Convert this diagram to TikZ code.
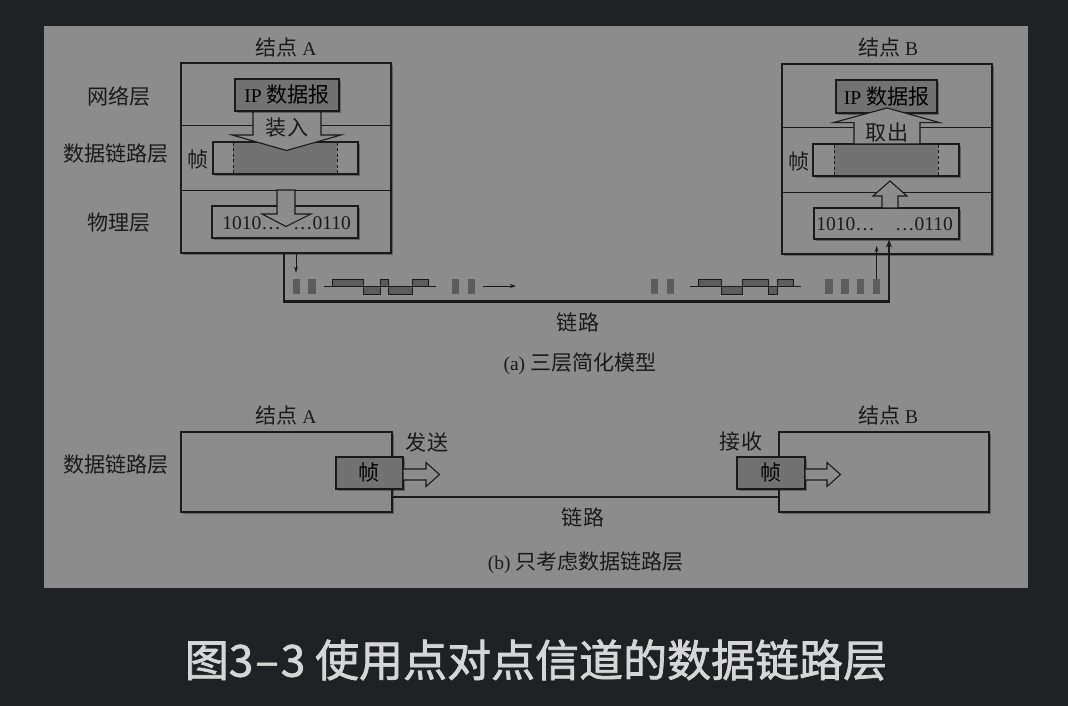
\documentclass[tikz,border=0pt]{standalone}
\usepackage{fontspec}
\setmainfont{Liberation Serif}
\newfontfamily\cjk[Scale=1.08]{Noto Sans CJK SC}
\newfontfamily\capfont[FakeBold=1.6]{Noto Sans CJK SC}
\newcommand\zhs[1]{{\cjk #1}}
\usetikzlibrary{shadows,arrows.meta}
\definecolor{bgc}{HTML}{202124}
\definecolor{panel}{HTML}{8C8C8C}
\definecolor{dfill}{HTML}{727272}
\definecolor{bitc}{HTML}{5C5C5C}
\definecolor{ink}{HTML}{1A1A1A}
\definecolor{capc}{HTML}{D6D6D6}
\begin{document}
\begin{tikzpicture}[x=1pt,y=-1pt,
  font=\fontsize{19.5}{22}\selectfont,
  box/.style={draw=ink, fill=panel, line width=1.1pt, inner sep=0pt,
    drop shadow={shadow xshift=1.6pt, shadow yshift=-1.6pt, fill=black, opacity=0.3}},
  darkbox/.style={box, fill=dfill},
  txt/.style={text=ink, inner sep=0pt},
  bitbox/.style={fill=bitc, draw=none, minimum width=7.5pt, minimum height=15pt, inner sep=0pt},
  link/.style={draw=ink, line width=2.8pt},
  thinarr/.style={draw=ink, line width=0.9pt, -{Stealth[length=6pt,width=4pt]}},
  hollow/.style={draw=ink, fill=panel, line width=1.1pt, line join=miter},
  divider/.style={draw=ink, line width=1pt},
  wave/.style={draw=ink, fill=bitc, line width=1pt},
  dashsep/.style={draw=ink, line width=0.9pt, dash pattern=on 3pt off 2.5pt}
]
\useasboundingbox (0,0) rectangle (1068,706);
\fill[bgc] (0,0) rectangle (1068,706);
\fill[panel] (44,26) rectangle (1028,588);

% ================= (a) =================
\node[txt] (tA) at (286,47) {\zhs{结点} A};
\node[txt] (tB) at (888,47) {\zhs{结点} B};
\node[txt] (l1) at (119,96) {\zhs{网络层}};
\node[txt] (l2) at (116,154) {\zhs{数据链路层}};
\node[txt] (l3) at (119,223) {\zhs{物理层}};

% ---- node A ----
\node[box, minimum width=210pt, minimum height=190pt] (nA) at (286,158) {};
\draw[divider] (nA.west |- 0,126) -- (nA.east |- 0,126);
\draw[divider] (nA.west |- 0,190) -- (nA.east |- 0,190);
\node[box, minimum width=145pt, minimum height=32pt] (fA) at (285.5,158) {};
\fill[dfill] (233,142.6) rectangle (337,173.4);
\draw[dashsep] (233,142.6) -- (233,173.4);
\draw[dashsep] (337,142.6) -- (337,173.4);
\node[txt] (zA) at (198,160) {\zhs{帧}};
\node[box, minimum width=146pt, minimum height=32pt] (bA) at (285,222) {};
\node[txt, anchor=east] (b1A) at (281,223) {1010…};
\node[txt, anchor=west] (b2A) at (293,223) {…0110};
% load arrow
\draw[hollow] (253,111) -- (321,111) -- (321,135) -- (341,135) -- (286.5,150.5) -- (232,135) -- (253,135) -- cycle;
\node[darkbox, minimum width=104pt, minimum height=32pt] (ipA) at (287,95) {IP \zhs{数据报}};
\node[txt] (ldA) at (287,128) {\zhs{装入}};
% physical arrow
\draw[hollow] (277,190) -- (295,190) -- (295,214) -- (311,214) -- (286,226.5) -- (262,214) -- (277,214) -- cycle;

% ---- node B ----
\node[box, minimum width=210pt, minimum height=190pt] (nB) at (887,159) {};
\draw[divider] (nB.west |- 0,128) -- (nB.east |- 0,128);
\draw[divider] (nB.west |- 0,192) -- (nB.east |- 0,192);
\node[darkbox, minimum width=101pt, minimum height=33pt] (ipB) at (886.5,96.5) {IP \zhs{数据报}};
\node[box, minimum width=146pt, minimum height=32pt] (fB) at (886,160) {};
\fill[dfill] (834,144.6) rectangle (938,175.4);
\draw[dashsep] (834,144.6) -- (834,175.4);
\draw[dashsep] (938,144.6) -- (938,175.4);
\node[txt] (zB) at (799,162) {\zhs{帧}};
\node[box, minimum width=145pt, minimum height=31pt] (bB) at (886.5,223.5) {};
\node[txt, anchor=east] (b1B) at (875,224) {1010…};
\node[txt, anchor=west] (b2B) at (895,224) {…0110};
% take-out arrow
\draw[hollow] (854,144) -- (854,122.7) -- (833,122.7) -- (887,108) -- (940,122.7) -- (920,122.7) -- (920,144) -- cycle;
\node[txt] (toB) at (887,133) {\zhs{取出}};
% physical up arrow
\draw[hollow] (882,208) -- (882,196) -- (873,196) -- (890,181) -- (907,196) -- (898,196) -- (898,208) -- cycle;

% ---- link (a) ----
\coordinate (ax) at (284,0);
\coordinate (bx) at (889,0);
\coordinate (lk) at (0,301.5);
\draw[link, line join=miter, -{Stealth[length=8pt,width=6pt]}] (nA.south -| ax) |- (lk -| bx) -- (bB.south -| bx);
\draw[thinarr] (nA.south -| 296,0) -- ++(0,19);

% bits
\node[bitbox] (a1) at (296.3,286.5) {};
\node[bitbox] (a2) at (312,286.5) {};
\node[bitbox] (a3) at (455.3,286.5) {};
\node[bitbox] (a4) at (471.3,286.5) {};
\node[bitbox] (c1) at (654.3,286.5) {};
\node[bitbox] (c2) at (670.3,286.5) {};
\node[bitbox] (c3) at (829,286.5) {};
\node[bitbox] (c4) at (845,286.5) {};
\node[bitbox] (c5) at (860.7,286.5) {};
\node[bitbox] (c6) at (876.7,286.5) {};
\draw[thinarr] (c6.north) -- (c6.north |- 0,246);
\coordinate (arS) at (483,286);
\coordinate (arE) at (516,286);
\draw[thinarr] (arS) -- (arE);

% waveforms
\draw[wave] (332,286) -- (332,279) -- (363,279) -- (363,294) -- (380,294) -- (380,279) -- (388,279) -- (388,294) -- (412,294) -- (412,279) -- (428,279) -- (428,286) -- cycle;
\draw[ink, line width=1pt] (324,286) -- (436,286);
\draw[wave] (698,286) -- (698,279) -- (721,279) -- (721,294) -- (742,294) -- (742,279) -- (768,279) -- (768,294) -- (777,294) -- (777,279) -- (793,279) -- (793,286) -- cycle;
\draw[ink, line width=1pt] (690,286) -- (801,286);

\node[txt] (lkA) at (578,322) {\zhs{链路}};
\node[txt] (capA) at (580,364) {(a) \zhs{三层简化模型}};

% ================= (b) =================
\node[txt] (tA2) at (286,415) {\zhs{结点} A};
\node[txt] (tB2) at (888,415) {\zhs{结点} B};
\node[txt] (l4) at (116,465) {\zhs{数据链路层}};
\node[box, minimum width=211pt, minimum height=80pt] (mA) at (286.5,472) {};
\node[box, minimum width=210pt, minimum height=80pt] (mB) at (884,472) {};
\node[darkbox, minimum width=67pt, minimum height=32pt] (fr1) at (369.5,473) {\zhs{帧}};
\node[darkbox, minimum width=68pt, minimum height=32pt] (fr2) at (771,473) {\zhs{帧}};
\draw[hollow] (fr1.east |- 0,469) -- (426,469) -- (426,462.5) -- (439.5,474.5) -- (426,486.5) -- (426,480) -- (fr1.east |- 0,480);
\draw[hollow] (fr2.east |- 0,469) -- (827,469) -- (827,462.5) -- (840.5,474.5) -- (827,486.5) -- (827,480) -- (fr2.east |- 0,480);
\node[txt] (send) at (427,442) {\zhs{发送}};
\node[txt] (recv) at (741,442) {\zhs{接收}};
\coordinate (lb) at (0,497);
\draw[link] (mA.east |- lb) -- (mB.west |- lb);
\node[txt] (lkB) at (583,517) {\zhs{链路}};
\node[txt] (capB) at (586,563) {(b) \zhs{只考虑数据链路层}};

% caption
\node[text=capc, inner sep=0pt, font=\capfont\fontsize{44}{50}\selectfont] (cap) at (536,660) {图3{\kern2pt}–{\kern2pt}3 使用点对点信道的数据链路层};
\end{tikzpicture}
\end{document}
